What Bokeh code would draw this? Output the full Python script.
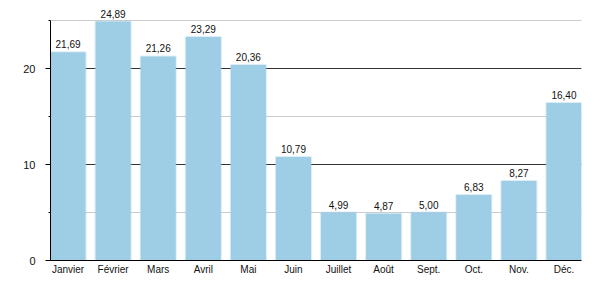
from bokeh.plotting import figure
from bokeh.models import FactorRange, Range1d, ColumnDataSource, SingleIntervalTicker
from bokeh.core.properties import value
from bokeh.embed import file_html
from bokeh.resources import INLINE

months = ["Janvier", "Février", "Mars", "Avril", "Mai", "Juin", "Juillet",
          "Août", "Sept.", "Oct.", "Nov.", "Déc."]
values = [21.69, 24.89, 21.26, 23.29, 20.36, 10.79, 4.99, 4.87, 5.00, 6.83, 8.27, 16.40]
labels = [f"{v:.2f}".replace(".", ",") for v in values]

FONT = "Liberation Sans"
BAR = "#9ecde6"
BW = 0.778
YMAX = 25

src = ColumnDataSource(dict(m=months, v=values, l=labels))

p = figure(width=600, height=300,
           x_range=FactorRange(*months, range_padding=-(1 - BW) / 2, range_padding_units="absolute"),
           y_range=Range1d(0, YMAX * 260 / 240), output_backend="svg", toolbar_location=None,
           min_border_left=50, min_border_right=19, min_border_top=0, min_border_bottom=40)
p.outline_line_color = None
p.background_fill_color = "white"
p.border_fill_color = "white"

p.vbar(x="m", top="v", width=BW, source=src, fill_color=BAR,
       line_color=BAR, line_alpha=0.35, line_width=2)

p.text(x="m", y="v", text="l", source=src, text_align="center",
       text_baseline="bottom", y_offset=-4, text_font=value(FONT),
       text_font_size="10px", text_color="#111111")

yt = SingleIntervalTicker(interval=10, num_minor_ticks=2)
p.yaxis.ticker = yt
p.yaxis.bounds = (0, YMAX)
p.ygrid.ticker = yt
p.ygrid.bounds = (0, YMAX)
p.ygrid.grid_line_color = "#333333"
p.ygrid.grid_line_width = 1
p.ygrid.minor_grid_line_color = "#cccccc"
p.ygrid.minor_grid_line_width = 1
p.xgrid.grid_line_color = None

p.yaxis.axis_line_color = "black"
p.yaxis.major_tick_out = 5
p.yaxis.major_tick_in = 0
p.yaxis.minor_tick_out = 2
p.yaxis.minor_tick_in = 0
p.yaxis.major_tick_line_color = "black"
p.yaxis.minor_tick_line_color = "black"
p.yaxis.major_label_text_font = FONT
p.yaxis.major_label_text_font_size = "11px"
p.yaxis.major_label_text_color = "#111111"
p.yaxis.major_label_standoff = 10

p.xaxis.axis_line_color = "black"
p.xaxis.major_tick_line_color = None
p.xaxis.minor_tick_line_color = None
p.xaxis.major_tick_out = 0
p.xaxis.major_tick_in = 0
p.xaxis.major_label_text_font = FONT
p.xaxis.major_label_text_font_size = "10px"
p.xaxis.major_label_text_color = "#111111"
p.xaxis.major_label_standoff = 3

open("out.html", "w").write(file_html(p, INLINE))
